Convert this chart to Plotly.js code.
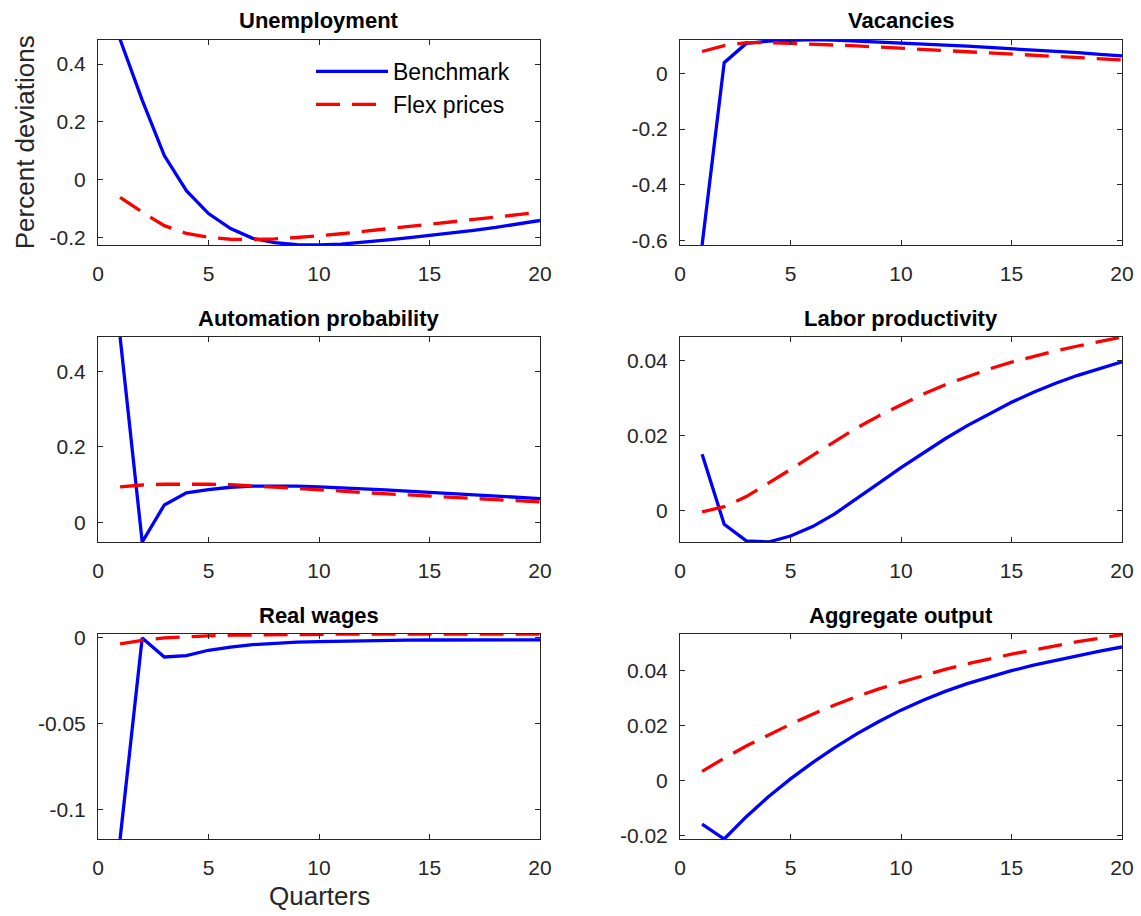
<!DOCTYPE html>
<html><head><meta charset="utf-8">
<script src="https://cdn.plot.ly/plotly-3.0.1.min.js"></script>
<style>html,body{margin:0;padding:0;background:#fff}#chart{width:1141px;height:916px}</style>
</head><body><div id="chart"></div>
<script>
const quarters = [1,2,3,4,5,6,7,8,9,10,11,12,13,14,15,16,17,18,19,20];

const unempBench = [0.485, 0.275, 0.083, -0.039, -0.118, -0.170, -0.204, -0.219, -0.226, -0.227, -0.224, -0.218, -0.210, -0.202, -0.194, -0.185, -0.176, -0.166, -0.155, -0.142];
const unempFlex  = [-0.062, -0.113, -0.160, -0.187, -0.200, -0.207, -0.208, -0.206, -0.201, -0.195, -0.188, -0.180, -0.172, -0.164, -0.156, -0.148, -0.140, -0.131, -0.122, -0.113];

const vacBench = [-0.615, 0.038, 0.107, 0.115, 0.118, 0.121, 0.119, 0.116, 0.112, 0.109, 0.105, 0.101, 0.097, 0.093, 0.088, 0.084, 0.079, 0.074, 0.068, 0.062];
const vacFlex  = [0.078, 0.099, 0.110, 0.110, 0.107, 0.105, 0.101, 0.098, 0.094, 0.090, 0.086, 0.081, 0.078, 0.073, 0.069, 0.064, 0.061, 0.056, 0.053, 0.048];

const autoBench = [0.491, -0.052, 0.046, 0.078, 0.087, 0.093, 0.096, 0.097, 0.096, 0.094, 0.092, 0.089, 0.086, 0.083, 0.080, 0.077, 0.074, 0.070, 0.067, 0.063];
const autoFlex  = [0.094, 0.099, 0.101, 0.102, 0.101, 0.100, 0.097, 0.093, 0.090, 0.086, 0.083, 0.079, 0.076, 0.072, 0.069, 0.065, 0.063, 0.059, 0.056, 0.054];

const prodBench = [0.0150, -0.0037, -0.0081, -0.0084, -0.0068, -0.0043, -0.0009, 0.0031, 0.0073, 0.0114, 0.0153, 0.0191, 0.0226, 0.0258, 0.0288, 0.0315, 0.0339, 0.0360, 0.0379, 0.0396];
const prodFlex  = [-0.0004, 0.0010, 0.0037, 0.0072, 0.0109, 0.0147, 0.0184, 0.0220, 0.0252, 0.0282, 0.0310, 0.0335, 0.0357, 0.0377, 0.0395, 0.0411, 0.0425, 0.0438, 0.0450, 0.0462];

const wageBench = [-0.1174, 0.0000, -0.0111, -0.0103, -0.0072, -0.0053, -0.0039, -0.0031, -0.0025, -0.0021, -0.0018, -0.0016, -0.0014, -0.0013, -0.0012, -0.0012, -0.0011, -0.0011, -0.0011, -0.0011];
const wageFlex  = [-0.0035, -0.0014, 0.0000, 0.0008, 0.0012, 0.0016, 0.0018, 0.0020, 0.0021, 0.0022, 0.0022, 0.0023, 0.0023, 0.0023, 0.0023, 0.0023, 0.0023, 0.0023, 0.0023, 0.0023];

const outBench = [-0.0157, -0.0211, -0.0130, -0.0058, 0.0007, 0.0066, 0.0120, 0.0170, 0.0215, 0.0256, 0.0292, 0.0324, 0.0352, 0.0377, 0.0399, 0.0419, 0.0437, 0.0454, 0.0470, 0.0485];
const outFlex  = [0.0034, 0.0082, 0.0126, 0.0167, 0.0205, 0.0241, 0.0275, 0.0305, 0.0333, 0.0357, 0.0382, 0.0404, 0.0424, 0.0442, 0.0459, 0.0474, 0.0490, 0.0504, 0.0517, 0.0530];

const panelTitles = ["Unemployment", "Vacancies", "Automation probability", "Labor productivity", "Real wages", "Aggregate output"];
const seriesNames = ["Benchmark", "Flex prices"];
const yAxisLabel = "Percent deviations";
const xAxisLabel = "Quarters";

const xTickVals = [0, 5, 10, 15, 20];
const xTickText = ["0", "5", "10", "15", "20"];

const yTickVals = [
  [-0.2, 0, 0.2, 0.4],
  [-0.6, -0.4, -0.2, 0],
  [0, 0.2, 0.4],
  [0, 0.02, 0.04],
  [-0.1, -0.05, 0],
  [-0.02, 0, 0.02, 0.04]
];
const yTickText = [
  ["-0.2", "0", "0.2", "0.4"],
  ["-0.6", "-0.4", "-0.2", "0"],
  ["0", "0.2", "0.4"],
  ["0", "0.02", "0.04"],
  ["-0.1", "-0.05", "0"],
  ["-0.02", "0", "0.02", "0.04"]
];
const yRanges = [
  [-0.227, 0.485],
  [-0.615, 0.121],
  [-0.052, 0.491],
  [-0.0084, 0.0462],
  [-0.1174, 0.0023],
  [-0.0211, 0.0532]
];

const benchSeries = [unempBench, vacBench, autoBench, prodBench, wageBench, outBench];
const flexSeries  = [unempFlex, vacFlex, autoFlex, prodFlex, wageFlex, outFlex];

const W = 1141, H = 916;
const colX = [[98, 540], [680, 1122]];
const rowY = [[39.5, 245], [337, 542], [634, 839]];

const axisColor = '#262626';
const fontFam = '"Liberation Sans", Arial, Helvetica, sans-serif';

const data = [];
const layout = {
  width: W, height: H,
  margin: {l: 0, r: 0, t: 0, b: 0},
  paper_bgcolor: '#fff', plot_bgcolor: '#fff',
  font: {family: fontFam, color: axisColor, size: 21},
  showlegend: true,
  legend: {
    x: 311 / W, y: 1 - 50 / H, xanchor: 'left', yanchor: 'top',
    bgcolor: 'rgba(255,255,255,0)', borderwidth: 0,
    font: {family: fontFam, size: 23, color: '#000'},
    itemwidth: 72, tracegroupgap: 0
  },
  annotations: []
};

for (let i = 0; i < 6; i++) {
  const r = Math.floor(i / 2), c = i % 2;
  const sfx = i === 0 ? '' : String(i + 1);
  const xa = 'x' + sfx, ya = 'y' + sfx;
  data.push({
    x: quarters, y: benchSeries[i], xaxis: xa, yaxis: ya, type: 'scatter', mode: 'lines',
    name: seriesNames[0], showlegend: i === 0,
    line: {color: '#0000ff', width: 3.3}
  });
  data.push({
    x: quarters, y: flexSeries[i], xaxis: xa, yaxis: ya, type: 'scatter', mode: 'lines',
    name: seriesNames[1], showlegend: i === 0,
    line: {color: '#ff0000', width: 3.3, dash: '24px,12px'}
  });
  const common = {
    showline: true, linecolor: axisColor, linewidth: 1, mirror: 'ticks',
    ticks: 'inside', ticklen: 5, tickwidth: 1, tickcolor: axisColor,
    showgrid: false, zeroline: false, tickmode: 'array',
    tickfont: {family: fontFam, size: 21, color: axisColor}
  };
  layout['xaxis' + sfx] = Object.assign({}, common, {
    domain: [colX[c][0] / W, colX[c][1] / W], anchor: ya,
    range: [0, 20], tickvals: xTickVals, ticktext: xTickText, ticklabelstandoff: 10
  });
  layout['yaxis' + sfx] = Object.assign({}, common, {
    domain: [1 - rowY[r][1] / H, 1 - rowY[r][0] / H], anchor: xa,
    range: yRanges[i], tickvals: yTickVals[i], ticktext: yTickText[i], ticklabelstandoff: 7
  });
  layout.annotations.push({
    text: '<b>' + panelTitles[i] + '</b>', xref: 'paper', yref: 'paper',
    x: (colX[c][0] + colX[c][1]) / 2 / W, y: 1 - rowY[r][0] / H,
    xanchor: 'center', yanchor: 'bottom', yshift: 4, showarrow: false,
    font: {family: fontFam, size: 22, color: '#000'}
  });
}

layout.annotations.push({
  text: yAxisLabel, xref: 'paper', yref: 'paper', textangle: -90,
  x: 25 / W, y: 1 - (rowY[0][0] + rowY[0][1]) / 2 / H,
  xanchor: 'center', yanchor: 'middle', showarrow: false,
  font: {family: fontFam, size: 26, color: axisColor}
});
layout.annotations.push({
  text: xAxisLabel, xref: 'paper', yref: 'paper',
  x: (colX[0][0] + colX[0][1]) / 2 / W, y: 1 - 896 / H,
  xanchor: 'center', yanchor: 'middle', showarrow: false,
  font: {family: fontFam, size: 26, color: axisColor}
});

Plotly.newPlot('chart', data, layout, {displayModeBar: false, staticPlot: true});
</script>
</body></html>
